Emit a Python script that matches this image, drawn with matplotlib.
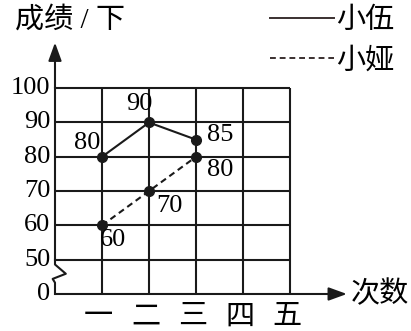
import numpy as np
import matplotlib
matplotlib.use("Agg")
import matplotlib.pyplot as plt
from matplotlib.lines import Line2D

plt.rcParams['font.family'] = ['Liberation Serif', 'Noto Sans CJK SC']

categories = ['一', '二', '三', '四', '五']
xiaowu = [80, 90, 85]
xiaoya = [60, 70, 80]
yticks = [0, 50, 60, 70, 80, 90, 100]


# broken axis: 0..50 squeezed into one cell, then 10 per cell
def fwd(v):
    v = np.asarray(v, dtype=float)
    return np.where(v >= 50, (v - 40) / 10, v / 50)


def inv(l):
    l = np.asarray(l, dtype=float)
    return np.where(l >= 1, l * 10 + 40, l * 50)


fig = plt.figure(figsize=(4.11, 3.31), dpi=100)
ax = fig.add_axes([0, 0, 1, 1])
ax.set_yscale('function', functions=(fwd, inv))
ax.set_xlim(-1.170, 7.574)
ax.set_ylim(inv(-1.079), inv(8.571))
ax.axis('off')

lw = 1.5
col = '#1a1a1a'
x = np.arange(1, len(categories) + 1)

# grid
for xi in x:
    ax.plot([xi, xi], [0, 100], color=col, lw=lw, solid_capstyle='butt')
for v in yticks[1:]:
    ax.plot([0, len(categories)], [v, v], color=col, lw=lw, solid_capstyle='butt')

# y axis with break
ax.plot([0, 0], [inv(1.0), 100], color=col, lw=lw)
zx = [0, 0, 0.23, -0.05, 0, 0]
zy = [inv(1.0), inv(0.86), inv(0.59), inv(0.44), inv(0.33), 0]
ax.plot(zx, zy, color=col, lw=lw)
ax.annotate('', xy=(0, inv(7.33)), xytext=(0, 100),
            arrowprops=dict(arrowstyle='-|>,head_length=1.1,head_width=0.4',
                            color=col, lw=lw, shrinkA=0, shrinkB=0))
ax.annotate('', xy=(6.21, 0), xytext=(0, 0),
            arrowprops=dict(arrowstyle='-|>,head_length=1.1,head_width=0.4',
                            color=col, lw=lw, shrinkA=0, shrinkB=0))

fs = 19
fc = 21
for v in yticks:
    ax.text(-0.10, v, str(v), ha='right', va='center', fontsize=fs)
for xi, c in zip(x, categories):
    ax.text(xi - 0.07, inv(-0.68), c, ha='center', va='center', fontsize=fc)

ax.text(-0.85, inv(7.99), '成绩 / 下', ha='left', va='center', fontsize=fc)
ax.text(6.30, 0, '次数', ha='left', va='center', fontsize=fc)

# series
ax.plot(x[:3], xiaowu, color=col, lw=lw, marker='o', ms=7)
ax.plot(x[:3], xiaoya, color=col, lw=lw, ls=(0, (3, 2)), marker='o', ms=7)

offs_w = [(-15, 14), (-10, 18), (24, 5)]
offs_y = [(11, -15), (20, -15), (24, -13)]
for xi, v, o in zip(x, xiaowu, offs_w):
    ax.annotate(str(v), (xi, v), xytext=o, textcoords='offset pixels',
                ha='center', va='center', fontsize=fs)
for xi, v, o in zip(x, xiaoya, offs_y):
    ax.annotate(str(v), (xi, v), xytext=o, textcoords='offset pixels',
                ha='center', va='center', fontsize=fs)

handles = [Line2D([], [], color='#3a3030', lw=1.4),
           Line2D([], [], color='#3a3030', lw=1.4, ls=(0, (3, 2)))]
fig.legend(handles, ['小伍', '小娅'], loc='upper left',
           bbox_to_anchor=(270 / 411, 1 - 8 / 331), frameon=False, fontsize=fc,
           handlelength=2.2, handletextpad=0.05, labelspacing=0.45,
           borderpad=0, borderaxespad=0)

fig.savefig('out.png', dpi=100)
